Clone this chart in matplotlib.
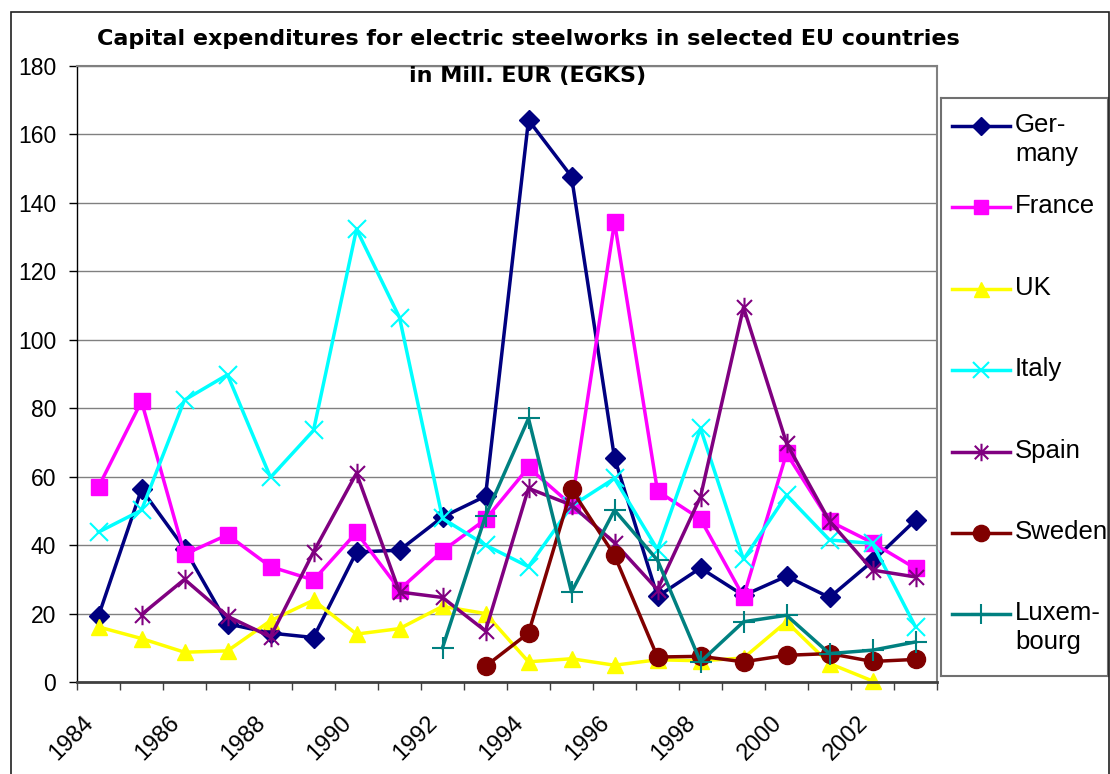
import numpy as np
import matplotlib

matplotlib.use("Agg")
import matplotlib.pyplot as plt
from matplotlib.path import Path
from matplotlib.patches import Rectangle
from matplotlib.transforms import ScaledTranslation

plt.rcParams["font.family"] = ["Liberation Sans", "DejaVu Sans"]

nan = np.nan
years = list(range(1984, 2004))
germany = [19.3, 56.3, 39, 17, 14.3, 13, 38, 38.5, 48.2, 54.3,
           164.2, 147.7, 65.5, 25, 33.3, 25.3, 30.9, 24.7, 35.3, 47.3]
france = [57, 82, 37.3, 43, 33.7, 29.8, 43.7, 27, 38.3, 47.5,
          62.7, 51.7, 134.4, 55.8, 47.6, 24.9, 66.8, 47, 40.7, 33.2]
uk = [16.1, 12.7, 8.7, 9.1, 17.9, 23.9, 14, 15.6, 22.1, 20,
      5.9, 6.8, 4.9, 6.5, 6.2, 7, 17.6, 5.4, 0.3, nan]
italy = [43.8, 50.2, 82.4, 89.8, 59.8, 73.5, 132.3, 106.5, 47.8, 40,
         33.7, 51.4, 59.5, 38.7, 74.1, 35.8, 54.6, 41.5, 40.5, 16.1]
spain = [nan, 19.7, 30, 19.2, 13.2, 38, 61, 26.3, 24.7, 14.9,
         56.6, 51.7, 40.7, 27, 54.1, 109.5, 69.8, 47, 32.7, 30.7]
sweden = [nan, nan, nan, nan, nan, nan, nan, nan, nan, 4.6,
          14.3, 56.3, 37, 7.3, 7.5, 5.9, 7.8, 8.3, 6, 6.6]
luxembourg = [nan, nan, nan, nan, nan, nan, nan, nan, 10, 48.5,
              77, 26.3, 50.2, 35.6, 5.9, 17.6, 19.5, 8.3, 9.3, 11.7]

names = ["Ger-\nmany", "France", "UK", "Italy", "Spain", "Sweden", "Luxem-\nbourg"]
series = [germany, france, uk, italy, spain, sweden, luxembourg]

# Excel-like star marker: x with a vertical bar
star = Path([(-1, -1), (1, 1), (-1, 1), (1, -1), (0, -1.3), (0, 1.3)],
            [Path.MOVETO, Path.LINETO, Path.MOVETO, Path.LINETO, Path.MOVETO, Path.LINETO])

styles = [
    dict(color="#000080", marker="D", ms=10, mew=1),
    dict(color="#FF00FF", marker="s", ms=11, mew=1),
    dict(color="#FFFF00", marker="^", ms=12, mew=1),
    dict(color="#00FFFF", marker="x", ms=13, mew=1.5),
    dict(color="#800080", marker=star, ms=14, mew=1.5),
    dict(color="#800000", marker="o", ms=13, mew=1),
    dict(color="#008080", marker="+", ms=16, mew=1.5),
]

W, H = 1110, 774
fig = plt.figure(figsize=(W / 100, H / 100), dpi=100)


def fx(px):
    return px / W


def fy(py):
    return 1 - py / H


# outer chart border
fig.patches.append(Rectangle((fx(11), fy(790)), fx(1109) - fx(11), fy(12) - fy(790),
                             transform=fig.transFigure, fill=False,
                             edgecolor="#202020", linewidth=1.2))

ax = fig.add_axes([fx(77), fy(682), fx(937) - fx(77), fy(66) - fy(682)])
x = np.arange(len(years))
for vals, st in zip(series, styles):
    ax.plot(x, vals, color=st["color"], linewidth=2.5, marker=st["marker"],
            markersize=st["ms"], markeredgewidth=st["mew"],
            markerfacecolor=st["color"], markeredgecolor=st["color"], clip_on=False)

ax.set_xlim(-0.5, len(years) - 0.5)
ax.set_ylim(0, 180)
ax.set_yticks(range(0, 181, 20))
ax.tick_params(axis="y", labelsize=16.5, length=6, width=1, direction="out", pad=9)
ax.set_xticks(np.arange(-0.5, len(years), 1.0))
ax.set_xticklabels([])
ax.tick_params(axis="x", length=6, width=1, direction="out", color="#404040")
ax.grid(axis="y", color="#808080", linewidth=1)
ax.set_axisbelow(True)
for side in ["top", "right"]:
    ax.spines[side].set_color("#808080")
    ax.spines[side].set_linewidth(1.5)
ax.spines["left"].set_color("black")
ax.spines["left"].set_linewidth(1)
ax.spines["bottom"].set_color("#404040")
ax.spines["bottom"].set_linewidth(2)

# rotated year labels every second category
off = ScaledTranslation(-8 / 100, -38 / 100, fig.dpi_scale_trans)
for i in range(0, len(years), 2):
    ax.text(x[i], 0, str(years[i]), transform=ax.get_xaxis_transform() + off,
            rotation=45, rotation_mode="anchor", ha="right", va="center", fontsize=17)

title_font = dict(ha="center", va="center", fontsize=16, fontweight="bold",
                  family="DejaVu Sans", zorder=5)
fig.text(fx(528), fy(39), "Capital expenditures for electric steelworks in selected EU countries",
         **title_font)
fig.text(fx(528), fy(76), "in Mill. EUR (EGKS)", **title_font)

# legend box
lax = fig.add_axes([fx(941), fy(676), fx(1108) - fx(941), fy(98) - fy(676)])
lax.set_xlim(941, 1108)
lax.set_ylim(676, 98)
lax.set_xticks([])
lax.set_yticks([])
for sp in lax.spines.values():
    sp.set_color("#707070")
    sp.set_linewidth(1.5)
for i, (name, st) in enumerate(zip(names, styles)):
    yy = 126 + 81.4 * i
    lax.plot([952, 1010], [yy, yy], color=st["color"], linewidth=2.5)
    lax.plot([981], [yy], color=st["color"], marker=st["marker"], markersize=st["ms"] * 0.9,
             markeredgewidth=st["mew"])
    lax.text(1015, yy - 13, name, ha="left", va="top", fontsize=18.5, linespacing=1.25)

fig.savefig("out.png", dpi=100)
